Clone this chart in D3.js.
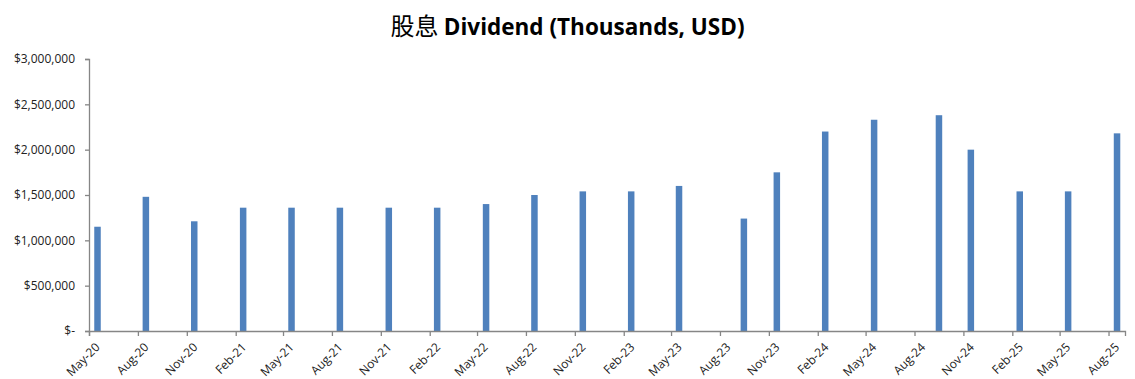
<!DOCTYPE html>
<html>
<head>
<meta charset="utf-8">
<script src="https://cdn.jsdelivr.net/npm/d3@7"></script>
<style>
  body { margin: 0; background: #fff; }
  svg { display: block; }
</style>
</head>
<body>
<svg width="1135" height="379"></svg>
<script>
// payment dates and dividend amounts
var payDates = ["2020-05-17", "2020-08-16", "2020-11-15", "2021-02-15", "2021-05-17", "2021-08-16",
                "2021-11-16", "2022-02-15", "2022-05-18", "2022-08-17", "2022-11-16", "2023-02-15",
                "2023-05-16", "2023-09-15", "2023-11-16", "2024-02-15", "2024-05-17", "2024-09-16",
                "2024-11-15", "2025-02-15", "2025-05-17", "2025-08-17"];
var dividends = [1150000, 1480000, 1210000, 1360000, 1360000, 1360000,
                 1360000, 1360000, 1400000, 1500000, 1540000, 1540000,
                 1600000, 1240000, 1750000, 2200000, 2330000, 2380000,
                 2000000, 1540000, 1540000, 2180000];
var tickLabels = ["May-20", "Aug-20", "Nov-20", "Feb-21", "May-21", "Aug-21", "Nov-21", "Feb-22",
                  "May-22", "Aug-22", "Nov-22", "Feb-23", "May-23", "Aug-23", "Nov-23", "Feb-24",
                  "May-24", "Aug-24", "Nov-24", "Feb-25", "May-25", "Aug-25"];
var yTicks = [0, 500000, 1000000, 1500000, 2000000, 2500000, 3000000];

var margin = { left: 89, right: 10, top: 59, bottom: 48 };
var width = 1135, height = 379;

var parseDay = d3.timeParse("%Y-%m-%d");
var parseTick = d3.timeParse("%b-%y");
var fmt = d3.format(",");

var svg = d3.select("svg");

var xscale = d3.scaleTime()
               .domain([new Date(2020, 4, 1), new Date(2025, 8, 1)])
               .range([margin.left, width - margin.right]);

var yscale = d3.scaleLinear()
               .domain([0, 3000000])
               .range([height - margin.bottom, margin.top]);

var barW = 6.5;

svg.append("g")
   .selectAll("rect")
   .data(dividends)
   .enter()
   .append("rect")
   .attr("x", function(d, i) { return xscale(parseDay(payDates[i])) - barW / 2; })
   .attr("y", function(d) { return yscale(d); })
   .attr("width", barW)
   .attr("height", function(d) { return yscale(0) - yscale(d); })
   .attr("fill", "#4f81bd");

// y axis
var yaxis = d3.axisLeft(yscale)
              .tickValues(yTicks)
              .tickSize(4)
              .tickPadding(10)
              .tickFormat(function(d) { return d === 0 ? "$-" : "$" + fmt(d); });

var yg = svg.append("g")
            .attr("transform", "translate(" + margin.left + ",0)")
            .call(yaxis);

// x axis
var xaxis = d3.axisBottom(xscale)
              .tickValues(tickLabels.map(function(t) { return parseTick(t); }))
              .tickSize(5)
              .tickFormat(function(d, i) { return tickLabels[i]; });

var xg = svg.append("g")
            .attr("transform", "translate(0," + yscale(0) + ")")
            .call(xaxis);

xg.selectAll("text")
  .attr("text-anchor", "end")
  .attr("dy", null)
  .attr("y", null)
  .attr("transform", "translate(11,17) rotate(-45)");

[yg, xg].forEach(function(g) {
  g.select(".domain").attr("stroke", "#868686").attr("stroke-width", 1.3);
  g.selectAll(".tick line").attr("stroke", "#868686").attr("stroke-width", 1.3);
  g.selectAll("text")
   .attr("fill", "#222")
   .attr("font-size", "12px")
   .attr("font-family", "'Open Sans', sans-serif");
});

// title
var title = svg.append("text")
               .attr("x", width / 2)
               .attr("y", 35)
               .attr("text-anchor", "middle")
               .attr("fill", "#000");

title.append("tspan")
     .attr("font-family", "'Noto Sans CJK SC', sans-serif")
     .attr("font-size", "24px")
     .attr("font-weight", "normal")
     .text("股息 ");

title.append("tspan")
     .attr("font-family", "'Open Sans', sans-serif")
     .attr("font-size", "22.5px")
     .attr("font-weight", "bold")
     .text("Dividend (Thousands, USD)");
</script>
</body>
</html>
